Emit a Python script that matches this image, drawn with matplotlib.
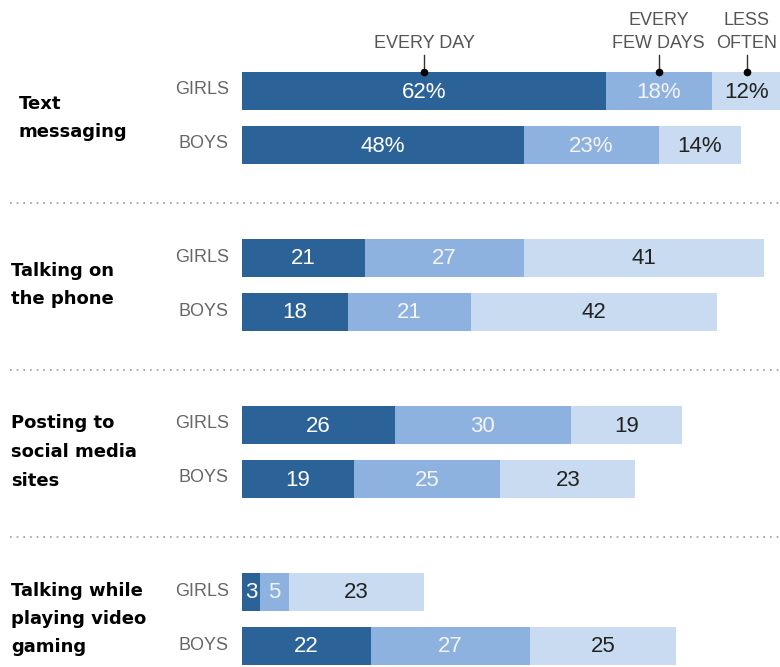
import matplotlib

matplotlib.use("Agg")
import matplotlib.pyplot as plt

activities = ["Text\nmessaging", "Talking on\nthe phone", "Posting to\nsocial media\nsites",
              "Talking while\nplaying video\ngaming"]
groups = ["GIRLS", "BOYS"]
every_day = [[62, 48], [21, 18], [26, 19], [3, 22]]
few_days = [[18, 23], [27, 21], [30, 25], [5, 27]]
less_often = [[12, 14], [41, 42], [19, 23], [23, 25]]
headers = ["EVERY DAY", "EVERY\nFEW DAYS", "LESS\nOFTEN"]

colors = ["#2b6399", "#8db2e0", "#c9dbf1"]
text_colors = ["white", "#f4f4f4", "#222222"]
label_font = ["Liberation Sans", "DejaVu Sans"]

W, H = 780, 667
fig = plt.figure(figsize=(W / 100, H / 100), dpi=100)

# overlay axes in pixel units for labels and separators
ov = fig.add_axes([0, 0, 1, 1])
ov.set_xlim(0, W)
ov.set_ylim(H, 0)
ov.axis("off")

# bar axes: x in percent
x0, px_per_pct = 242, 5.87
ax = fig.add_axes([x0 / W, 0, 1 - x0 / W, 1])
ax.set_xlim(0, (W - x0) / px_per_pct)
ax.set_ylim(H, 0)
ax.axis("off")

first_row, group_step, row_step, bar_h = 91, 167, 54, 38

for i, act in enumerate(activities):
    gy = first_row + i * group_step
    for j, g in enumerate(groups):
        y = gy + j * row_step
        vals = [every_day[i][j], few_days[i][j], less_often[i][j]]
        left = 0
        for k, v in enumerate(vals):
            ax.barh(y, v, left=left, height=bar_h, color=colors[k], linewidth=0)
            lab = f"{v}%" if i == 0 else str(v)
            ax.text(left + v / 2, y + 1, lab, ha="center", va="center", color=text_colors[k],
                    fontsize=16, family=label_font)
            if i == 0 and j == 0:
                cx = left + v / 2
                ax.plot([cx, cx], [55, y - bar_h / 2], color="#333333", lw=1, clip_on=False)
                ax.plot([cx], [y - bar_h / 2], "o", color="black", ms=4.5, clip_on=False)
                ax.text(cx, 52, headers[k], ha="center", va="bottom", color="#555555",
                        fontsize=13, family=label_font, linespacing=1.45)
            left += v
        ov.text(229, y - 1, g, ha="right", va="center", color="#666666", fontsize=13,
                family=label_font)
    lx = 19 if i == 0 else 11
    ov.text(lx, gy + row_step / 2, act, ha="left", va="center", fontsize=13, fontweight="bold",
            linespacing=1.75, color="black")
    if i > 0:
        sy = gy - 55
        ov.plot([10, W], [sy, sy], color="#999999", lw=1.2, ls=(0, (1, 3)))

fig.savefig("out.png", dpi=100)
